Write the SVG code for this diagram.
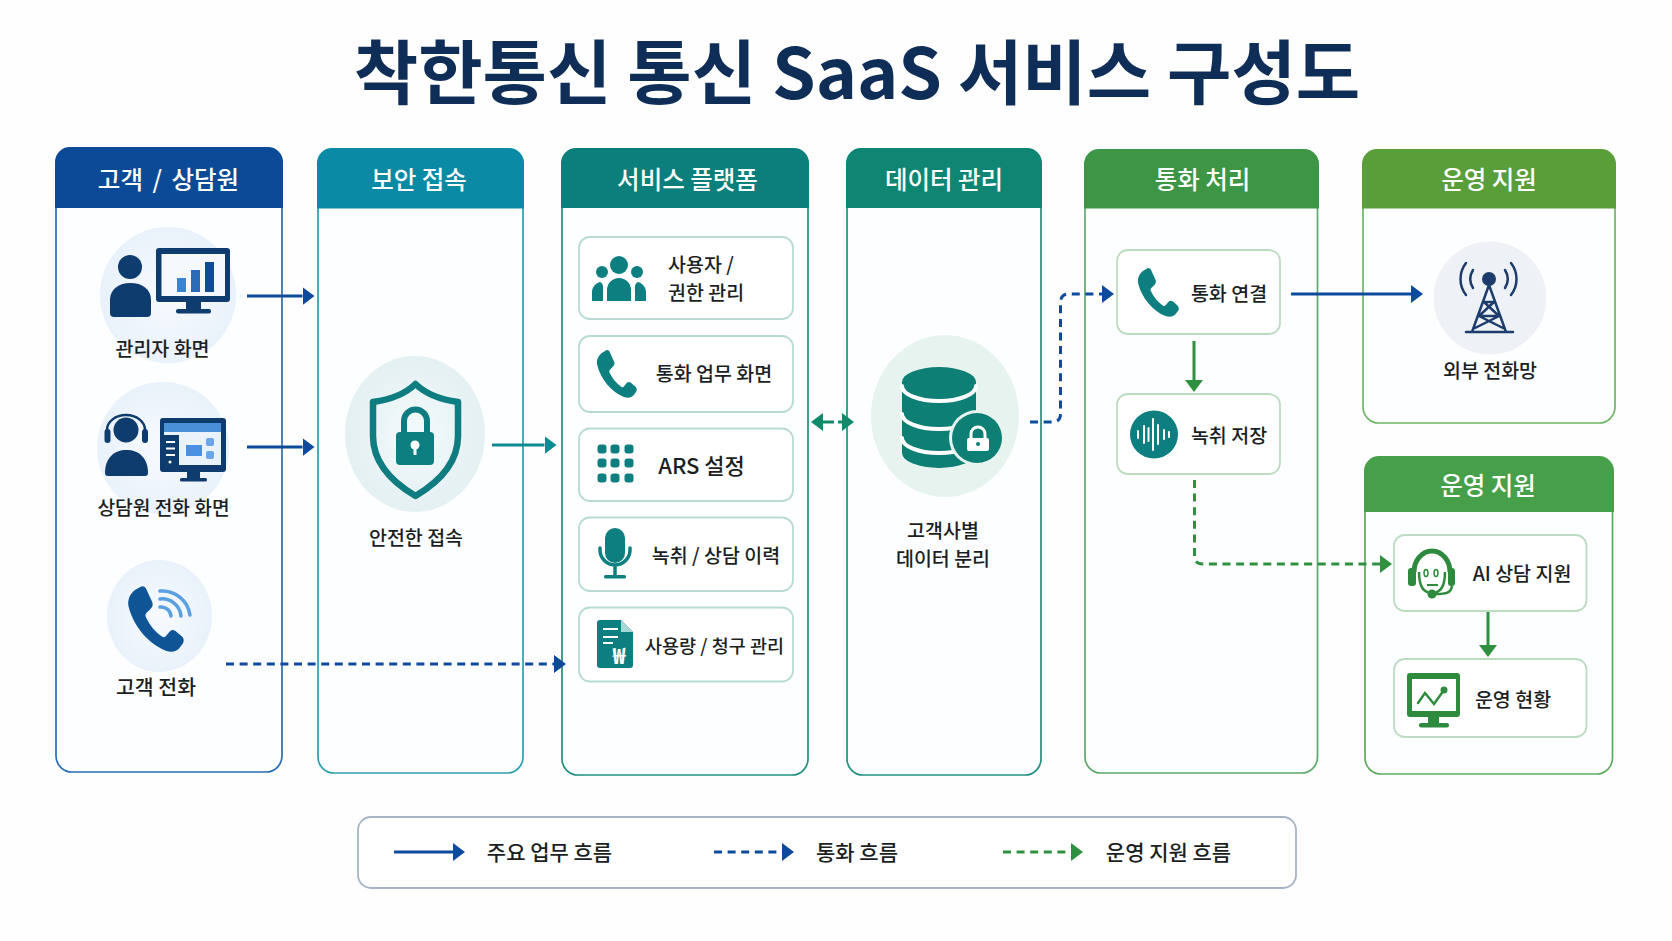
<svg xmlns="http://www.w3.org/2000/svg" width="1672" height="941" viewBox="0 0 1672 941">
<style>
text{font-family:"Noto Sans CJK KR","Noto Sans",sans-serif;fill:#1b1f24;font-weight:500;font-size:19.5px;text-anchor:middle}
.title{font-size:70px;font-weight:700;fill:#0f2e57}
.hd{font-size:24.5px;font-weight:500;fill:#fff}
.lg{font-size:21px}
.panel{stroke-width:1.7;fill:#fdfeff}
.item{fill:#fff;stroke:#b7dbd3;stroke-width:1.800}
.itemg{fill:#fff;stroke:#bcdcc2;stroke-width:1.800}
.teal{fill:#0d7f80}
.navy{fill:#0e3c6e}
.gr{fill:#2e8b3d}
.c{fill:none;stroke-width:3}
.w{fill:none;stroke:#fff;stroke-linecap:round}
</style>
<defs>
<symbol id="phone" viewBox="0 0 100 100" preserveAspectRatio="none"><path d="M14 6L24 1C28-1 32 1 34 5L44 24C46 28 45 31 42 34L34 41C32 43 32 45 33 47C40 60 50 70 62 77C64 78 66 78 68 76L75 69C78 66 81 66 85 68L97 77C100 80 100 84 98 87L92 94C86 100 78 101 68 98C38 88 12 62 3 32C0 22 5 12 14 6Z"/></symbol>
<radialGradient id="gb"><stop offset="0" stop-color="#f7fbff"/><stop offset="1" stop-color="#e9f1fa"/></radialGradient>
<radialGradient id="gt"><stop offset="0" stop-color="#f4fafb"/><stop offset="1" stop-color="#e4f0f2"/></radialGradient>
<marker id="mN" markerUnits="userSpaceOnUse" markerWidth="12" markerHeight="18" refX="0" refY="9" orient="auto"><path d="M0 0L12 9L0 18Z" fill="#0b4a9c"/></marker>
<marker id="mT" markerUnits="userSpaceOnUse" markerWidth="12" markerHeight="18" refX="0" refY="9" orient="auto"><path d="M0 0L12 9L0 18Z" fill="#0e8a94"/></marker>
<marker id="mG" markerUnits="userSpaceOnUse" markerWidth="12" markerHeight="18" refX="0" refY="9" orient="auto"><path d="M0 0L12 9L0 18Z" fill="#2f9140"/></marker>
<marker id="mE" markerUnits="userSpaceOnUse" markerWidth="12" markerHeight="18" refX="0" refY="9" orient="auto"><path d="M0 0L12 9L0 18Z" fill="#13896b"/></marker>
<marker id="mEs" markerUnits="userSpaceOnUse" markerWidth="12" markerHeight="18" refX="12" refY="9" orient="auto"><path d="M12 0L0 9L12 18Z" fill="#13896b"/></marker>
</defs>
<rect width="1672" height="941" fill="#fefefe"/>
<text class="title" x="857" y="99">착한통신 통신 SaaS 서비스 구성도</text>

<g id="col-customer">
<rect class="panel" x="56" y="148" width="226" height="624" rx="16" stroke="#2a6fb5"/>
<path d="M55 208V162a15 15 0 0 1 15-15H268a15 15 0 0 1 15 15V208Z" fill="#0b4a96"/>
<text class="hd" x="168.500" y="189" style="word-spacing:4px">고객 / 상담원</text>
</g>
<g id="node-admin">
<circle cx="168" cy="295" r="68" fill="url(#gb)"/>
<circle class="navy" cx="130" cy="267" r="12"/>
<path class="navy" d="M110 313V300C110 289 119 283 130.500 283S151 289 151 300V313a4 4 0 0 1-4 4H114a4 4 0 0 1-4-4Z"/>
<rect class="navy" x="156" y="248" width="74" height="54" rx="3"/>
<rect x="161.500" y="254" width="63.500" height="42" fill="#f5f9fd"/>
<rect x="177" y="278" width="9" height="14" fill="#3b82d0"/><rect x="191" y="270" width="9" height="22" fill="#2a6bb8"/><rect x="205" y="262" width="9" height="30" fill="#0f4c92"/>
<rect class="navy" x="186" y="302" width="15" height="8"/><rect class="navy" x="176" y="309" width="35" height="4.500" rx="2"/>
<text x="162.500" y="356">관리자 화면</text>
</g>
<g id="node-agent">
<circle cx="163" cy="448" r="66" fill="url(#gb)"/>
<circle class="navy" cx="126" cy="430" r="12.500"/>
<path d="M107 432V430A19 15 0 0 1 145 430V432" fill="none" stroke="#0e3c6e" stroke-width="2.500"/>
<rect class="navy" x="104.500" y="429" width="6" height="14" rx="3"/><rect class="navy" x="142" y="429" width="6" height="14" rx="3"/>
<path class="navy" d="M105 473C105 458 114 450 126.500 450S148 458 148 473a3 3 0 0 1-3 3H108a3 3 0 0 1-3-3Z"/>
<rect class="navy" x="160" y="418" width="66" height="54" rx="3"/>
<rect x="164" y="423" width="57" height="42" fill="#eaf2fb"/>
<rect x="164" y="423" width="57" height="9" fill="#4a90d9"/>
<rect class="navy" x="164" y="435" width="15" height="30"/>
<path d="M166 442h9M166 448.500h9M166 455h9" stroke="#fff" stroke-width="1.800"/><circle cx="170" cy="462" r="1.500" fill="#fff"/>
<rect x="186" y="445" width="16" height="11" fill="#4a90e2"/><rect x="206" y="438" width="8" height="8" rx="2" fill="#6aa6e8"/><rect x="206" y="451" width="8" height="8" rx="2" fill="#6aa6e8"/>
<rect class="navy" x="187" y="472" width="13" height="7"/><rect class="navy" x="180" y="478" width="27" height="3.500" rx="1.500"/>
<text x="163.500" y="515" style="font-size:19.2px">상담원 전화 화면</text>
</g>
<g id="node-call">
<ellipse cx="159.500" cy="616" rx="52.500" ry="56" fill="url(#gb)"/>
<use href="#phone" x="127" y="586" width="57" height="66" fill="#0f5596"/>
<path d="M160 591A28 28 0 0 1 190 615M160 599A19 19 0 0 1 181 616M160 607A10 10 0 0 1 171 616" fill="none" stroke="#5a9fe0" stroke-width="3.500" stroke-linecap="round"/>
<text x="156" y="695" style="font-size:20.500px">고객 전화</text>
</g>

<g id="col-security">
<rect class="panel" x="318" y="149" width="205" height="624" rx="16" stroke="#2aa0ad"/>
<path d="M317 208.500V163a15 15 0 0 1 15-15H509a15 15 0 0 1 15 15V208.500Z" fill="#0a8aa4"/>
<text class="hd" x="419" y="189">보안 접속</text>
<ellipse cx="415" cy="434" rx="70" ry="78" fill="url(#gt)"/>
<path d="M415.500 384C403 396 388 400 373 402V436C373 462 392 482 415.500 496C439 482 458 462 458 436V402C443 400 428 396 415.500 384Z" fill="none" stroke="#0e7c80" stroke-width="6.500" stroke-linejoin="round"/>
<path d="M404 433V421a11.500 11.500 0 0 1 23 0V433" fill="none" stroke="#0e7c80" stroke-width="6"/>
<rect class="teal" x="396" y="432" width="38" height="33" rx="4"/>
<circle cx="415" cy="445" r="4.500" fill="#fff"/><rect x="413.500" y="446" width="3" height="9" fill="#fff"/>
<text x="416" y="545">안전한 접속</text>
</g>

<g id="col-platform">
<rect class="panel" x="562" y="149" width="246" height="626" rx="16" stroke="#1f9080"/>
<path d="M561 208V163a15 15 0 0 1 15-15H794a15 15 0 0 1 15 15V208Z" fill="#0a7f7c"/>
<text class="hd" x="687.500" y="189">서비스 플랫폼</text>
</g>
<g id="node-users">
<rect class="item" x="579" y="237" width="214" height="82" rx="11"/>
<circle class="teal" cx="619" cy="265" r="9"/><circle class="teal" cx="602" cy="272" r="6"/><circle class="teal" cx="637" cy="272" r="6"/>
<path class="teal" d="M607 301V290a12 12 0 0 1 24 0V301ZM592 301V292C592 287 596 283 600 282 C 604 284 603 288 603 292V301ZM646 301V292C646 287 642 283 638 282C634 284 635 288 635 292V301Z"/>
<text x="668" y="272" style="text-anchor:start">사용자 /</text>
<text x="668" y="300" style="text-anchor:start">권한 관리</text>
</g>
<g id="node-callui">
<rect class="item" x="579" y="336" width="214" height="76" rx="11"/>
<use href="#phone" class="teal" x="596" y="350" width="41" height="48"/>
<text x="714" y="381">통화 업무 화면</text>
</g>
<g id="node-ars">
<rect class="item" x="579" y="428.500" width="214" height="72.500" rx="11"/>
<g class="teal"><rect x="597.500" y="444.500" width="9" height="9" rx="3"/><rect x="610.500" y="444.500" width="9" height="9" rx="3"/><rect x="624.500" y="444.500" width="9" height="9" rx="3"/><rect x="597.500" y="458.500" width="9" height="9" rx="3"/><rect x="610.500" y="458.500" width="9" height="9" rx="3"/><rect x="624.500" y="458.500" width="9" height="9" rx="3"/><rect x="597.500" y="473.500" width="9" height="9" rx="3"/><rect x="610.500" y="473.500" width="9" height="9" rx="3"/><rect x="624.500" y="473.500" width="9" height="9" rx="3"/></g>
<text x="701.500" y="474" style="font-size:22px">ARS 설정</text>
</g>
<g id="node-record">
<rect class="item" x="579" y="517.500" width="214" height="73.500" rx="11"/>
<rect class="teal" x="605" y="528" width="20" height="35" rx="10"/>
<path d="M600 548V550A15 15 0 0 0 630 550V548M615 565V576" fill="none" stroke="#0d7f80" stroke-width="3.500" stroke-linecap="round"/>
<rect class="teal" x="604" y="575" width="22" height="3.500" rx="1.500"/>
<text x="716" y="563">녹취 / 상담 이력</text>
</g>
<g id="node-billing">
<rect class="item" x="579" y="607.500" width="214" height="74" rx="11"/>
<path class="teal" d="M600 620H621L633 632V665a3 3 0 0 1-3 3H600a3 3 0 0 1-3-3V623a3 3 0 0 1 3-3Z"/>
<path d="M621 620L633 632H621Z" fill="#a9d6d6"/>
<path d="M603 629H618M603 637H618M603 643H613" stroke="#fff" stroke-width="2.200"/>
<text x="619" y="664" style="fill:#fff;font-size:22px;font-weight:700">₩</text>
<text x="714.500" y="653" style="font-size:18.500px">사용량 / 청구 관리</text>
</g>

<g id="col-data">
<rect class="panel" x="847" y="149" width="194" height="626" rx="16" stroke="#1f9080"/>
<path d="M846 208V163a15 15 0 0 1 15-15H1027a15 15 0 0 1 15 15V208Z" fill="#0f8674"/>
<text class="hd" x="944" y="189">데이터 관리</text>
<ellipse cx="945" cy="416" rx="74" ry="81" fill="#e6f3ee"/>
<path d="M902 382A37 15 0 0 1 976 382V453A37 15 0 0 1 902 453Z" fill="#0e7f74"/>
<path class="w" d="M902 386A37 15 0 0 0 976 386M902 414A37 15 0 0 0 976 414M902 438A37 15 0 0 0 976 438" stroke-width="4" stroke-linecap="butt"/>
<circle cx="977" cy="438" r="28" fill="#e6f3ee"/>
<circle cx="977" cy="438" r="25" fill="#0e7f74"/>
<path d="M971 440V434a7 7 0 0 1 14 0V440" fill="none" stroke="#fff" stroke-width="3"/>
<rect x="967" y="438" width="22" height="13" rx="2" fill="#fff"/><circle cx="978" cy="444" r="2" fill="#0e7f74"/>
<text x="943" y="538">고객사별</text>
<text x="943" y="566">데이터 분리</text>
</g>

<g id="col-call">
<rect class="panel" x="1085" y="150" width="232.500" height="623" rx="16" stroke="#5bab6a"/>
<path d="M1084 208.500V164a15 15 0 0 1 15-15H1304a15 15 0 0 1 15 15V208.500Z" fill="#3c9646"/>
<text class="hd" x="1202.500" y="189">통화 처리</text>
</g>
<g id="node-connect">
<rect class="itemg" x="1117" y="250" width="163" height="84" rx="11"/>
<use href="#phone" class="teal" x="1137" y="268" width="42" height="49"/>
<text x="1229" y="301">통화 연결</text>
</g>
<g id="node-store">
<rect class="itemg" x="1117" y="394" width="163" height="80" rx="11"/>
<circle class="teal" cx="1154" cy="434.500" r="24"/>
<path class="w" stroke-width="2" d="M1138 431V438M1144 426V443M1148.500 428V441M1153 419V450M1158 425V444M1164 430V439M1169 432V437"/>
<text x="1229" y="443">녹취 저장</text>
</g>

<g id="col-network">
<rect class="panel" x="1363" y="150" width="252" height="273" rx="16" stroke="#6db565"/>
<path d="M1362 208.500V164a15 15 0 0 1 15-15H1601a15 15 0 0 1 15 15V208.500Z" fill="#5a9e3a"/>
<text class="hd" x="1489" y="189">운영 지원</text>
<circle cx="1490" cy="298" r="56.500" fill="#eef2f6"/>
<g fill="none" stroke="#1c3d6b" stroke-width="2.500" stroke-linecap="round">
<path d="M1466 332H1513M1489 285L1472 332M1489 285L1506 332M1484 302H1494M1479 316H1499M1484 302L1499 316L1475 328M1494 302L1479 316L1503 328" />
<path d="M1466 263A26 26 0 0 0 1466 295M1473 270A17 17 0 0 0 1473 288M1511 263A26 26 0 0 1 1511 295M1505 270A17 17 0 0 1 1505 288"/>
</g>
<circle cx="1489" cy="279" r="7" fill="#1c3d6b"/>
<text x="1490" y="378">외부 전화망</text>
</g>

<g id="col-ops">
<rect class="panel" x="1365" y="457" width="247.500" height="317" rx="16" stroke="#5bab5f"/>
<path d="M1364 512V471a15 15 0 0 1 15-15H1599a15 15 0 0 1 15 15V512Z" fill="#46a049"/>
<text class="hd" x="1488" y="495">운영 지원</text>
</g>
<g id="node-ai">
<rect class="itemg" x="1394" y="535" width="192.500" height="76" rx="11"/>
<path d="M1414 572A18 21 0 0 1 1450 572" fill="none" stroke="#2e8b3d" stroke-width="5"/>
<path d="M1419 572C1419 590 1426 593 1432 593C1438 593 1445 590 1445 572" fill="none" stroke="#2e8b3d" stroke-width="2.500"/>
<rect class="gr" x="1408" y="568" width="8" height="18" rx="3"/><rect class="gr" x="1448" y="568" width="7" height="18" rx="3"/>
<ellipse cx="1426" cy="573" rx="2" ry="3.500" fill="none" stroke="#2e8b3d" stroke-width="1.500"/><ellipse cx="1436" cy="573" rx="2" ry="3.500" fill="none" stroke="#2e8b3d" stroke-width="1.500"/>
<path d="M1427 585H1438" stroke="#2e8b3d" stroke-width="2"/>
<path d="M1452 586C1451 593 1446 594 1436 594" fill="none" stroke="#2e8b3d" stroke-width="2.500"/>
<circle class="gr" cx="1432" cy="594" r="4.500"/>
<text x="1522" y="581">AI 상담 지원</text>
</g>
<g id="node-status">
<rect class="itemg" x="1394" y="659" width="192.500" height="78" rx="11"/>
<rect class="gr" x="1407" y="673" width="53" height="44" rx="3"/>
<rect x="1412" y="679" width="44" height="32" fill="#fff"/>
<rect class="gr" x="1428" y="716" width="11" height="8"/><rect class="gr" x="1419" y="723" width="30" height="4.500" rx="2"/>
<path d="M1418 703L1425 693L1434 704L1444 690" fill="none" stroke="#2e8b3d" stroke-width="2.500" stroke-linecap="round"/>
<circle class="gr" cx="1444" cy="690" r="3.500"/>
<text x="1513" y="707">운영 현황</text>
</g>

<g id="connectors">
<path class="c" d="M247 296H302.500" stroke="#0b4a9c" marker-end="url(#mN)"/>
<path class="c" d="M247 447H302.500" stroke="#0b4a9c" marker-end="url(#mN)"/>
<path class="c" d="M492 445H544.500" stroke="#0e8a94" marker-end="url(#mT)"/>
<path class="c" d="M226 664H554" stroke="#0b4a9c" stroke-dasharray="8 5.600" marker-end="url(#mN)"/>
<path class="c" d="M823 422H842" stroke="#13896b" stroke-dasharray="11 4" marker-start="url(#mEs)" marker-end="url(#mE)"/>
<path class="c" d="M1030 422H1052Q1060.500 422 1060.500 414V303Q1060.500 294 1069 294H1102" stroke="#0b4a9c" stroke-dasharray="8 5.600" marker-end="url(#mN)"/>
<path class="c" d="M1291 294H1411" stroke="#0b4a9c" marker-end="url(#mN)"/>
<path class="c" d="M1194 341V380" stroke="#2f9140" marker-end="url(#mG)"/>
<path class="c" d="M1194.500 480V556Q1194.500 564 1203 564H1380" stroke="#2f9140" stroke-dasharray="8 5.600" marker-end="url(#mG)"/>
<path class="c" d="M1488 612V645" stroke="#2f9140" marker-end="url(#mG)"/>
</g>

<g id="legend">
<rect x="358" y="817" width="938" height="71" rx="13" fill="#fff" stroke="#a6b4c8" stroke-width="1.800"/>
<path class="c" d="M394 852H453" stroke="#0b4a9c" marker-end="url(#mN)"/>
<text class="lg" x="549.500" y="860">주요 업무 흐름</text>
<path class="c" d="M714 852H782" stroke="#0b4a9c" stroke-dasharray="8 5.600" marker-end="url(#mN)"/>
<text class="lg" x="857" y="860">통화 흐름</text>
<path class="c" d="M1003 852H1071" stroke="#2f9140" stroke-dasharray="8 5.600" marker-end="url(#mG)"/>
<text class="lg" x="1168.500" y="860">운영 지원 흐름</text>
</g>
</svg>
